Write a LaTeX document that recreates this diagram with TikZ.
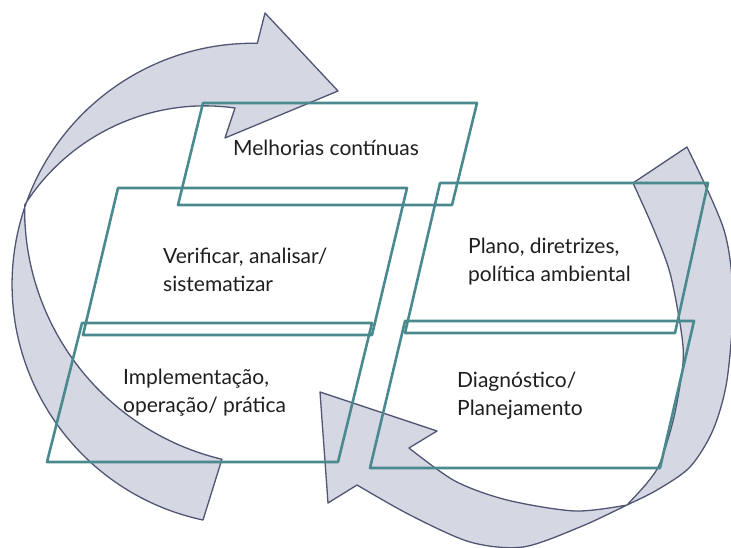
\documentclass[tikz,border=0pt]{standalone}
\usepackage{fontspec}
\setmainfont{Lato}
\usepackage{tikz}
\definecolor{paraline}{HTML}{4A8A8E}
\definecolor{bandline}{HTML}{505573}
\definecolor{bandfill}{HTML}{D5D8E2}
\definecolor{labeltext}{HTML}{1E1E1E}
\begin{document}
\begin{tikzpicture}
[x=1pt,y=-1pt,line join=round,
box/.style={draw=paraline,line width=2.6pt},
band/.style={draw=bandline,fill=bandfill,line width=1.3pt},
lbl/.style={anchor=north west,inner sep=0pt,align=left,text=labeltext,font=\fontsize{21}{28}\selectfont},]
\useasboundingbox (0,0) rectangle (731,548);
\clip (0,0) rectangle (731,548);

% arrow top left
\filldraw[band] (203,520) arc[start angle=102,end angle=271,radius=241]
  -- (265,13) -- (338,91) -- (225,138) -- (235,108)
  arc[start angle=278.1,end angle=212.4,radius=213.5]
  arc[start angle=181,end angle=103.4,radius=256.8]
  -- cycle;
% arrow bottom right
\filldraw[band] (633,183) -- (687,147)
  -- plot[smooth,tension=0.5] coordinates {(687,147) (724,230) (733,300) (727,380) (713,430) (690,467) (657,490) (627,505) (580,527) (523,547) (470,542) (410,515) (357,485)}
  -- (328,503) -- (320,392) -- (437,431) -- (409,448)
  -- plot[smooth,tension=0.5] coordinates {(409,448) (455,481) (507,500) (575,511) (627,505)}
  -- plot[smooth,tension=0.5] coordinates {(627,505) (647,483) (660,463) (674,417) (683,363) (681,330) (670,273) (654,230) (633,183)}
  -- cycle;

\draw[box] (203,103) -- (477,103) -- (452,205) -- (178,205) -- cycle;
\draw[box] (118,188) -- (407,188) -- (372,335) -- (83,335) -- cycle;
\draw[box] (82,323) -- (372,323) -- (338,462) -- (47,462) -- cycle;
\draw[box] (440,183) -- (708,183) -- (675,333) -- (405,333) -- cycle;
\draw[box] (405,321) -- (694,321) -- (660,468) -- (370,468) -- cycle;

\node (M) at (233,140)[lbl]{Melhorias contínuas};
\node (V) at (163,248)[lbl]{Verificar, analisar/\\sistematizar};
\node (P) at (468,238)[lbl]{Plano, diretrizes,\\política ambiental};
\node (D) at (457,372)[lbl]{Diagnóstico/\\Planejamento};
\node (I) at (123,369)[lbl]{Implementação,\\operação/ prática};

\end{tikzpicture}
\end{document}
